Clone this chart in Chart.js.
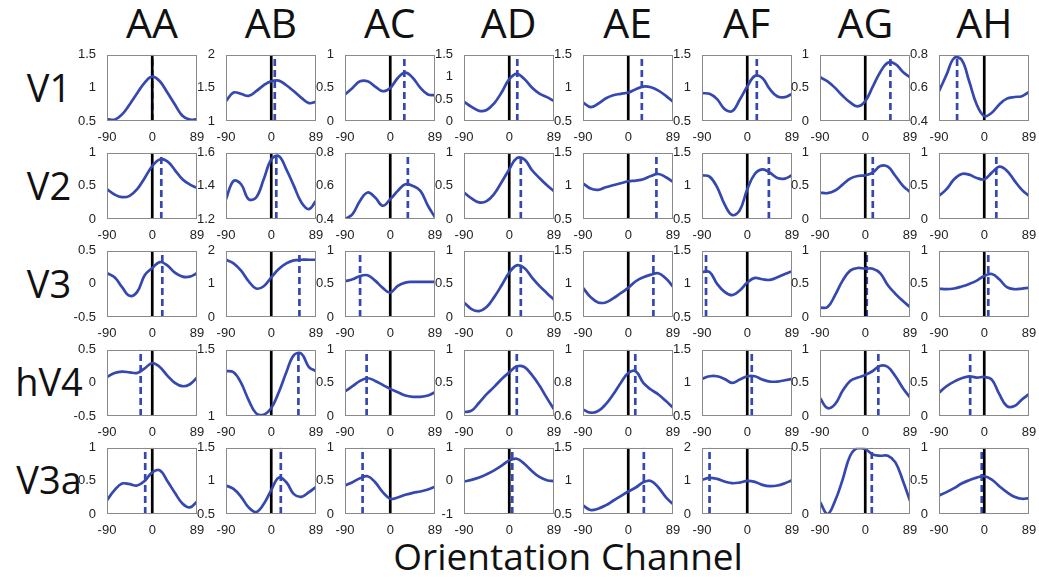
<!DOCTYPE html>
<html>
<head>
<meta charset="utf-8">
<script src="https://cdn.jsdelivr.net/npm/chart.js@4.4.1/dist/chart.umd.min.js"></script>
<style>
  html, body { margin: 0; padding: 0; background: #fff; }
  body { width: 1039px; height: 581px; position: relative; overflow: hidden; }
  .panel { position: absolute; }
  .label { position: absolute; font-family: "Open Sans", sans-serif; color: #111; white-space: nowrap; line-height: 1; }
  .col { font-size: 41px; transform: translateX(-50%); }
  .row { font-size: 38px; transform: translate(-50%, -50%); }
  .xlabel { font-size: 37px; transform: translateX(-50%); }
</style>
</head>
<body>
<script>
// Subject columns and visual areas
const columns = ['AA', 'AB', 'AC', 'AD', 'AE', 'AF', 'AG', 'AH'];
const regions = ['V1', 'V2', 'V3', 'hV4', 'V3a'];
const xLabel = 'Orientation Channel';

// Orientation channels (deg) where each response is sampled
const channels = [-90, -75, -60, -45, -30, -15, 0, 15, 30, 45, 60, 75, 89];
const xTicks = [-90, 0, 89];

// Channel responses, one list per subject (AA..AH)
const responseV1 = [
  [0.53, 0.52, 0.60, 0.75, 0.92, 1.08, 1.17, 1.10, 0.93, 0.75, 0.58, 0.52, 0.53],
  [1.30, 1.43, 1.41, 1.38, 1.45, 1.54, 1.60, 1.61, 1.54, 1.45, 1.35, 1.27, 1.29],
  [0.40, 0.50, 0.60, 0.60, 0.52, 0.45, 0.50, 0.65, 0.73, 0.65, 0.50, 0.40, 0.39],
  [0.44, 0.32, 0.23, 0.25, 0.40, 0.65, 0.95, 1.07, 0.95, 0.76, 0.62, 0.54, 0.45],
  [0.78, 0.71, 0.76, 0.84, 0.89, 0.91, 0.93, 0.98, 1.02, 1.01, 0.96, 0.88, 0.79],
  [0.92, 0.91, 0.83, 0.68, 0.65, 0.82, 1.02, 1.18, 1.15, 0.98, 0.87, 0.86, 0.91],
  [0.66, 0.60, 0.50, 0.38, 0.28, 0.22, 0.30, 0.52, 0.74, 0.88, 0.86, 0.74, 0.66],
  [0.58, 0.68, 0.78, 0.77, 0.64, 0.50, 0.43, 0.45, 0.50, 0.535, 0.545, 0.55, 0.575]
];
const responseV2 = [
  [0.45, 0.37, 0.33, 0.35, 0.45, 0.62, 0.80, 0.90, 0.87, 0.74, 0.60, 0.52, 0.47],
  [1.32, 1.43, 1.41, 1.32, 1.33, 1.44, 1.56, 1.58, 1.50, 1.40, 1.30, 1.26, 1.31],
  [0.40, 0.43, 0.51, 0.56, 0.53, 0.48, 0.52, 0.57, 0.61, 0.60, 0.57, 0.48, 0.41],
  [0.40, 0.31, 0.25, 0.27, 0.38, 0.56, 0.75, 0.92, 0.90, 0.74, 0.62, 0.51, 0.42],
  [1.04, 0.96, 0.94, 0.98, 1.01, 1.04, 1.07, 1.08, 1.10, 1.15, 1.18, 1.13, 1.06],
  [1.16, 1.14, 0.98, 0.72, 0.56, 0.63, 0.95, 1.18, 1.25, 1.20, 1.12, 1.11, 1.16],
  [0.40, 0.39, 0.43, 0.52, 0.61, 0.65, 0.66, 0.70, 0.80, 0.79, 0.65, 0.50, 0.41],
  [0.35, 0.45, 0.60, 0.68, 0.67, 0.62, 0.60, 0.70, 0.79, 0.73, 0.58, 0.44, 0.35]
];
const responseV3 = [
  [0.16, 0.10, -0.05, -0.18, -0.12, 0.13, 0.24, 0.33, 0.28, 0.17, 0.11, 0.11, 0.16],
  [1.73, 1.62, 1.40, 1.08, 0.86, 0.93, 1.20, 1.45, 1.62, 1.71, 1.73, 1.73, 1.73],
  [0.54, 0.57, 0.62, 0.63, 0.55, 0.44, 0.37, 0.47, 0.52, 0.53, 0.53, 0.53, 0.53],
  [0.22, 0.12, 0.09, 0.15, 0.30, 0.48, 0.67, 0.78, 0.74, 0.60, 0.47, 0.36, 0.26],
  [0.94, 0.80, 0.72, 0.72, 0.78, 0.86, 0.94, 1.04, 1.10, 1.14, 1.16, 1.08, 0.96],
  [1.18, 1.18, 1.00, 0.88, 0.83, 0.90, 1.02, 1.09, 1.07, 1.06, 1.10, 1.15, 1.19],
  [0.14, 0.15, 0.33, 0.55, 0.70, 0.74, 0.73, 0.73, 0.66, 0.48, 0.35, 0.24, 0.15],
  [0.43, 0.42, 0.43, 0.46, 0.50, 0.55, 0.62, 0.65, 0.57, 0.45, 0.42, 0.43, 0.44]
];
const responseHV4 = [
  [0.09, 0.15, 0.17, 0.16, 0.15, 0.22, 0.30, 0.24, 0.11, 0.00, -0.05, -0.02, 0.08],
  [1.34, 1.33, 1.25, 1.12, 1.02, 1.01, 1.06, 1.18, 1.33, 1.46, 1.47, 1.37, 1.34],
  [0.37, 0.45, 0.53, 0.57, 0.53, 0.47, 0.41, 0.36, 0.31, 0.29, 0.29, 0.31, 0.36],
  [0.06, 0.08, 0.20, 0.33, 0.44, 0.56, 0.66, 0.75, 0.74, 0.62, 0.46, 0.27, 0.10],
  [0.64, 0.62, 0.63, 0.67, 0.73, 0.80, 0.86, 0.87, 0.80, 0.76, 0.73, 0.69, 0.65],
  [1.06, 1.10, 1.10, 1.06, 1.00, 1.05, 1.10, 1.10, 1.05, 1.02, 1.02, 1.04, 1.06],
  [0.27, 0.12, 0.18, 0.38, 0.53, 0.58, 0.62, 0.68, 0.76, 0.74, 0.60, 0.42, 0.28],
  [0.35, 0.45, 0.52, 0.57, 0.60, 0.58, 0.59, 0.55, 0.33, 0.15, 0.15, 0.25, 0.33]
];
const responseV3a = [
  [0.21, 0.36, 0.46, 0.45, 0.43, 0.50, 0.63, 0.66, 0.50, 0.32, 0.16, 0.10, 0.19],
  [0.93, 0.88, 0.76, 0.60, 0.53, 0.65, 0.86, 1.05, 0.98, 0.80, 0.76, 0.83, 0.91],
  [0.43, 0.48, 0.54, 0.57, 0.48, 0.33, 0.23, 0.25, 0.29, 0.32, 0.34, 0.37, 0.41],
  [-0.02, 0.03, 0.10, 0.20, 0.32, 0.46, 0.62, 0.67, 0.52, 0.30, 0.12, 0.02, -0.01],
  [0.63, 0.56, 0.58, 0.63, 0.70, 0.77, 0.84, 0.90, 0.98, 1.00, 0.90, 0.75, 0.65],
  [1.03, 1.09, 1.06, 0.98, 0.93, 0.95, 1.00, 0.97, 0.88, 0.84, 0.86, 0.93, 1.02],
  [0.09, 0.00, 0.10, 0.26, 0.44, 0.50, 0.49, 0.45, 0.44, 0.44, 0.39, 0.25, 0.10],
  [0.28, 0.33, 0.39, 0.46, 0.51, 0.55, 0.57, 0.52, 0.42, 0.33, 0.26, 0.23, 0.24]
];

// Preferred orientation (dashed line) for each subject
const preferredV1 = [0, 7, 28, 16, 27, 19, 50, -54];
const preferredV2 = [18, 10, 35, 23, 56, 43, 15, 24];
const preferredV3 = [20, 56, -60, 23, 50, -82, 3, 8];
const preferredHV4 = [-23, 54, -47, 15, 14, 9, 26, -28];
const preferredV3a = [-14, 19, -55, 6, 31, -75, 13, -5];

// y-axis [min, max, step] for each subject
const yAxisV1 = [[0.5, 1.5, 0.5], [1, 2, 0.5], [0, 1, 0.5], [0, 1.5, 0.5], [0.5, 1.5, 0.5], [0.5, 1.5, 0.5], [0, 1, 0.5], [0.4, 0.8, 0.2]];
const yAxisV2 = [[0, 1, 0.5], [1.2, 1.6, 0.2], [0.4, 0.8, 0.2], [0, 1, 0.5], [0.5, 1.5, 0.5], [0.5, 1.5, 0.5], [0, 1, 0.5], [0, 1, 0.5]];
const yAxisV3 = [[-0.5, 0.5, 0.5], [0, 2, 1], [0, 1, 0.5], [0, 1, 0.5], [0.5, 1.5, 0.5], [0.5, 1.5, 0.5], [0, 1, 0.5], [0, 1, 0.5]];
const yAxisHV4 = [[-0.5, 0.5, 0.5], [1, 1.5, 0.5], [0, 1, 0.5], [0, 1, 0.5], [0.6, 1, 0.2], [0.5, 1.5, 0.5], [0, 1, 0.5], [0, 1, 0.5]];
const yAxisV3a = [[0, 1, 0.5], [0.5, 1.5, 0.5], [0, 1, 0.5], [-1, 1, 1], [0.5, 1.5, 0.5], [0, 2, 1], [0, 0.5, 0.5], [0, 1, 0.5]];

const responses = [responseV1, responseV2, responseV3, responseHV4, responseV3a];
const preferred = [preferredV1, preferredV2, preferredV3, preferredHV4, preferredV3a];
const yAxes = [yAxisV1, yAxisV2, yAxisV3, yAxisHV4, yAxisV3a];

// Grid geometry (px)
const gridLeft = 107, colPitch = 118.9, plotW = 90;
const gridTop = 52, rowPitch = 98.2, plotH = 69;
const padL = 34, padT = 8, padR = 14, padB = 22;

const curveColor = '#3548b0';
const tickFont = { family: '"Liberation Sans", Arial, sans-serif', size: 13 };

// Draws the grey frame around each plot area
const framePlugin = {
  id: 'frame',
  afterDatasetsDraw(chart) {
    const { ctx, chartArea: a } = chart;
    ctx.save();
    ctx.strokeStyle = '#8a8a8a';
    ctx.lineWidth = 1;
    ctx.strokeRect(Math.round(a.left) + 0.5, Math.round(a.top) + 0.5,
      Math.round(a.right - a.left) - 1, Math.round(a.bottom - a.top) - 1);
    ctx.restore();
  }
};

function fmt(v) { return String(Math.round(v * 100) / 100); }

function addText(cls, text, x, y) {
  const d = document.createElement('div');
  d.className = 'label ' + cls;
  d.textContent = text;
  d.style.left = x + 'px';
  d.style.top = y + 'px';
  document.body.appendChild(d);
}

columns.forEach((name, c) => addText('col', name, gridLeft + c * colPitch + plotW / 2, 2));
regions.forEach((name, r) => addText('row', name, 49, gridTop + r * rowPitch + plotH / 2));
addText('xlabel', xLabel, gridLeft + (7 * colPitch + plotW) / 2, 537);

regions.forEach((region, r) => {
  columns.forEach((subject, c) => {
    const [yMin, yMax, yStep] = yAxes[r][c];
    const pref = preferred[r][c];
    const canvas = document.createElement('canvas');
    const w = padL + plotW + padR, h = padT + plotH + padB;
    const box = document.createElement('div');
    box.className = 'panel';
    box.style.left = (Math.round(gridLeft + c * colPitch) - padL) + 'px';
    box.style.top = (Math.round(gridTop + r * rowPitch) - padT) + 'px';
    box.style.width = w + 'px';
    box.style.height = h + 'px';
    box.appendChild(canvas);
    document.body.appendChild(box);

    new Chart(canvas, {
      type: 'line',
      data: {
        datasets: [
          {
            data: channels.map((x, i) => ({ x, y: responses[r][c][i] })),
            borderColor: curveColor, borderWidth: 2.7,
            tension: 0.4, pointRadius: 0
          },
          {
            data: [{ x: 0, y: yMin }, { x: 0, y: yMax }],
            borderColor: '#000', borderWidth: 2.7, pointRadius: 0
          },
          {
            data: [{ x: pref, y: yMin }, { x: pref, y: yMax }],
            borderColor: curveColor, borderWidth: 2.7, borderDash: [7, 4], pointRadius: 0
          }
        ]
      },
      options: {
        responsive: true, maintainAspectRatio: false, animation: false,
        devicePixelRatio: 1,
        layout: { autoPadding: false, padding: { left: 0, top: padT, right: padR, bottom: 0 } },
        plugins: { legend: { display: false }, tooltip: { enabled: false } },
        scales: {
          x: {
            type: 'linear', min: -90, max: 89,
            afterBuildTicks: axis => { axis.ticks = xTicks.map(v => ({ value: v })); },
            afterFit: axis => { axis.height = padB; },
            grid: { display: false }, border: { display: false },
            ticks: { font: tickFont, color: '#222', padding: 1, maxRotation: 0, autoSkip: false, callback: v => fmt(v) }
          },
          y: {
            type: 'linear', min: yMin, max: yMax,
            afterFit: axis => { axis.width = padL; },
            grid: { display: false }, border: { display: false },
            ticks: { font: tickFont, color: '#222', padding: 3, stepSize: yStep, autoSkip: false, callback: v => fmt(v) }
          }
        }
      },
      plugins: [framePlugin]
    });
  });
});
</script>
</body>
</html>
